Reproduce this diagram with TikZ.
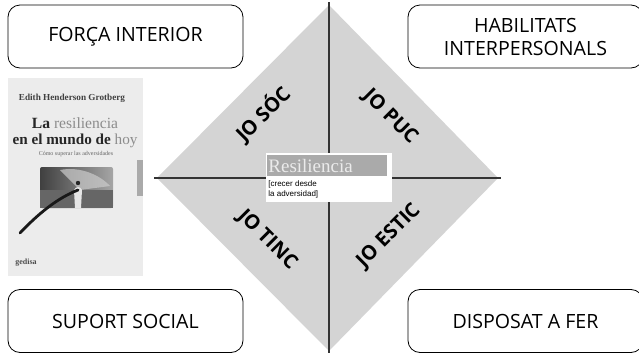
\documentclass[tikz,border=0pt]{standalone}
\usepackage{fontspec}
\setmainfont{Open Sans}
\newfontfamily\coverfont{Liberation Serif}
\newfontfamily\notefont{Liberation Sans}
\usetikzlibrary{positioning}

\definecolor{diamondgray}{RGB}{212,212,212}
\definecolor{bargray}{RGB}{170,170,170}
\definecolor{covergray}{RGB}{236,236,236}

\tikzset{
    areabox/.style = {draw, rounded corners = 6pt, minimum width = 117.5pt,
        minimum height = 31.5pt, align = center, font = \fontsize{9.8}{11.5}\selectfont},
    quadlabel/.style = {inner sep = 1pt, font = \fontsize{10}{11}\selectfont\bfseries}
}

\begin{document}
\begin{tikzpicture}[x = 0.5pt, y = -0.5pt]

        \useasboundingbox (0, 0) rectangle (639, 354);

        % Defining points for the diamond.
        \coordinate (T) at (329, 5);
        \coordinate (R) at (498, 178);
        \coordinate (B) at (329, 351);
        \coordinate (L) at (157, 178);

        % Fill in the diamond.
        \draw[fill = diamondgray, draw = none] (T) to (R) to (B) to (L) to cycle;

        % Mark the cross lines.
        \coordinate (crossT) at (329, 2);
        \coordinate (crossB) at (329, 353);
        \coordinate (crossL) at (154, 178);
        \coordinate (crossR) at (501, 178);
        \draw[line width = 0.8pt, draw = black!80] (crossT) to (crossB);
        \draw[line width = 0.8pt, draw = black!80] (crossL) to (crossR);

        % The four corner boxes.
        \node[areabox] (forca) at (125.5, 36.5) {FORÇA INTERIOR};
        \node[areabox] (habilitats) at (525.5, 36.5) {HABILITATS\\INTERPERSONALS};
        \node[areabox] (suport) at (125.5, 321) {SUPORT SOCIAL};
        \node[areabox] (disposat) at (525.5, 321) {DISPOSAT A FER};

        % Labels of the quadrants.
        \node[quadlabel, rotate = 45] (soc) at (263, 114) {JO SÓC};
        \node[quadlabel, rotate = -45] (puc) at (390, 117) {JO PUC};
        \node[quadlabel, rotate = -45] (tinc) at (267, 240) {JO TINC};
        \node[quadlabel, rotate = 45] (estic) at (389, 236) {JO ESTIC};

        % The label in the centre.
        \draw[fill = white, draw = none] (266, 153) rectangle (392, 202);
        \draw[fill = bargray, draw = none] (267, 155) rectangle (387, 176);
        \node[anchor = west, inner sep = 0pt, text = white!92!black,
            font = \coverfont\fontsize{9.5}{10}\selectfont] (resiliencia) at (268, 166) {Resiliencia};
        \node[anchor = north west, inner sep = 0pt, align = left,
            font = \notefont\fontsize{4}{5}\selectfont] (creixer) at (268, 180) {[crecer desde\\la adversidad]};

        % The book cover.
        \draw[fill = covergray, draw = none] (8, 78) rectangle (143, 276);
        \draw[fill = bargray, draw = none] (137, 160) rectangle (143, 196);
        \node[inner sep = 0pt, font = \coverfont\bfseries\fontsize{4.6}{5}\selectfont,
            text = black!75] (autor) at (72, 98) {Edith Henderson Grotberg};
        \node[inner sep = 0pt, font = \coverfont\bfseries\fontsize{7.8}{9}\selectfont,
            text = black!85] (titol) at (75, 123) {La \textcolor{black!45}{\mdseries resiliencia}};
        \node[inner sep = 0pt, font = \coverfont\bfseries\fontsize{7.6}{9}\selectfont,
            text = black!85] (titol2) at (75, 141) {en el mundo de \textcolor{black!45}{\mdseries hoy}};
        \node[inner sep = 0pt, font = \coverfont\fontsize{3}{3.5}\selectfont,
            text = black!60] (subtitol) at (76, 154) {Cómo superar las adversidades};

        % Picture on the cover.
        \shade[left color = black!75, right color = black!35, rounded corners = 1pt]
            (40, 167) rectangle (113, 208);
        \fill[black!20, opacity = 0.7] (60, 170) .. controls (80, 166) and (100, 175) .. (110, 186)
            to (80, 190) to cycle;
        \fill[black!60] (40, 190) rectangle (113, 208);
        \fill[white!90!black] (74, 190) .. controls (76, 186) and (80, 186) .. (82, 190)
            to (81, 208) to (75, 208) to cycle;
        \fill[black!85] (78, 183) circle (2.2);
        \draw[black!90, line width = 1.4pt, line cap = round]
            (20, 233) .. controls (40, 212) and (58, 198) .. (78, 190);
        \node[inner sep = 0pt, font = \coverfont\bfseries\fontsize{4}{4.5}\selectfont,
            text = black!70] (editorial) at (26, 263) {gedisa};

\end{tikzpicture}
\end{document}
